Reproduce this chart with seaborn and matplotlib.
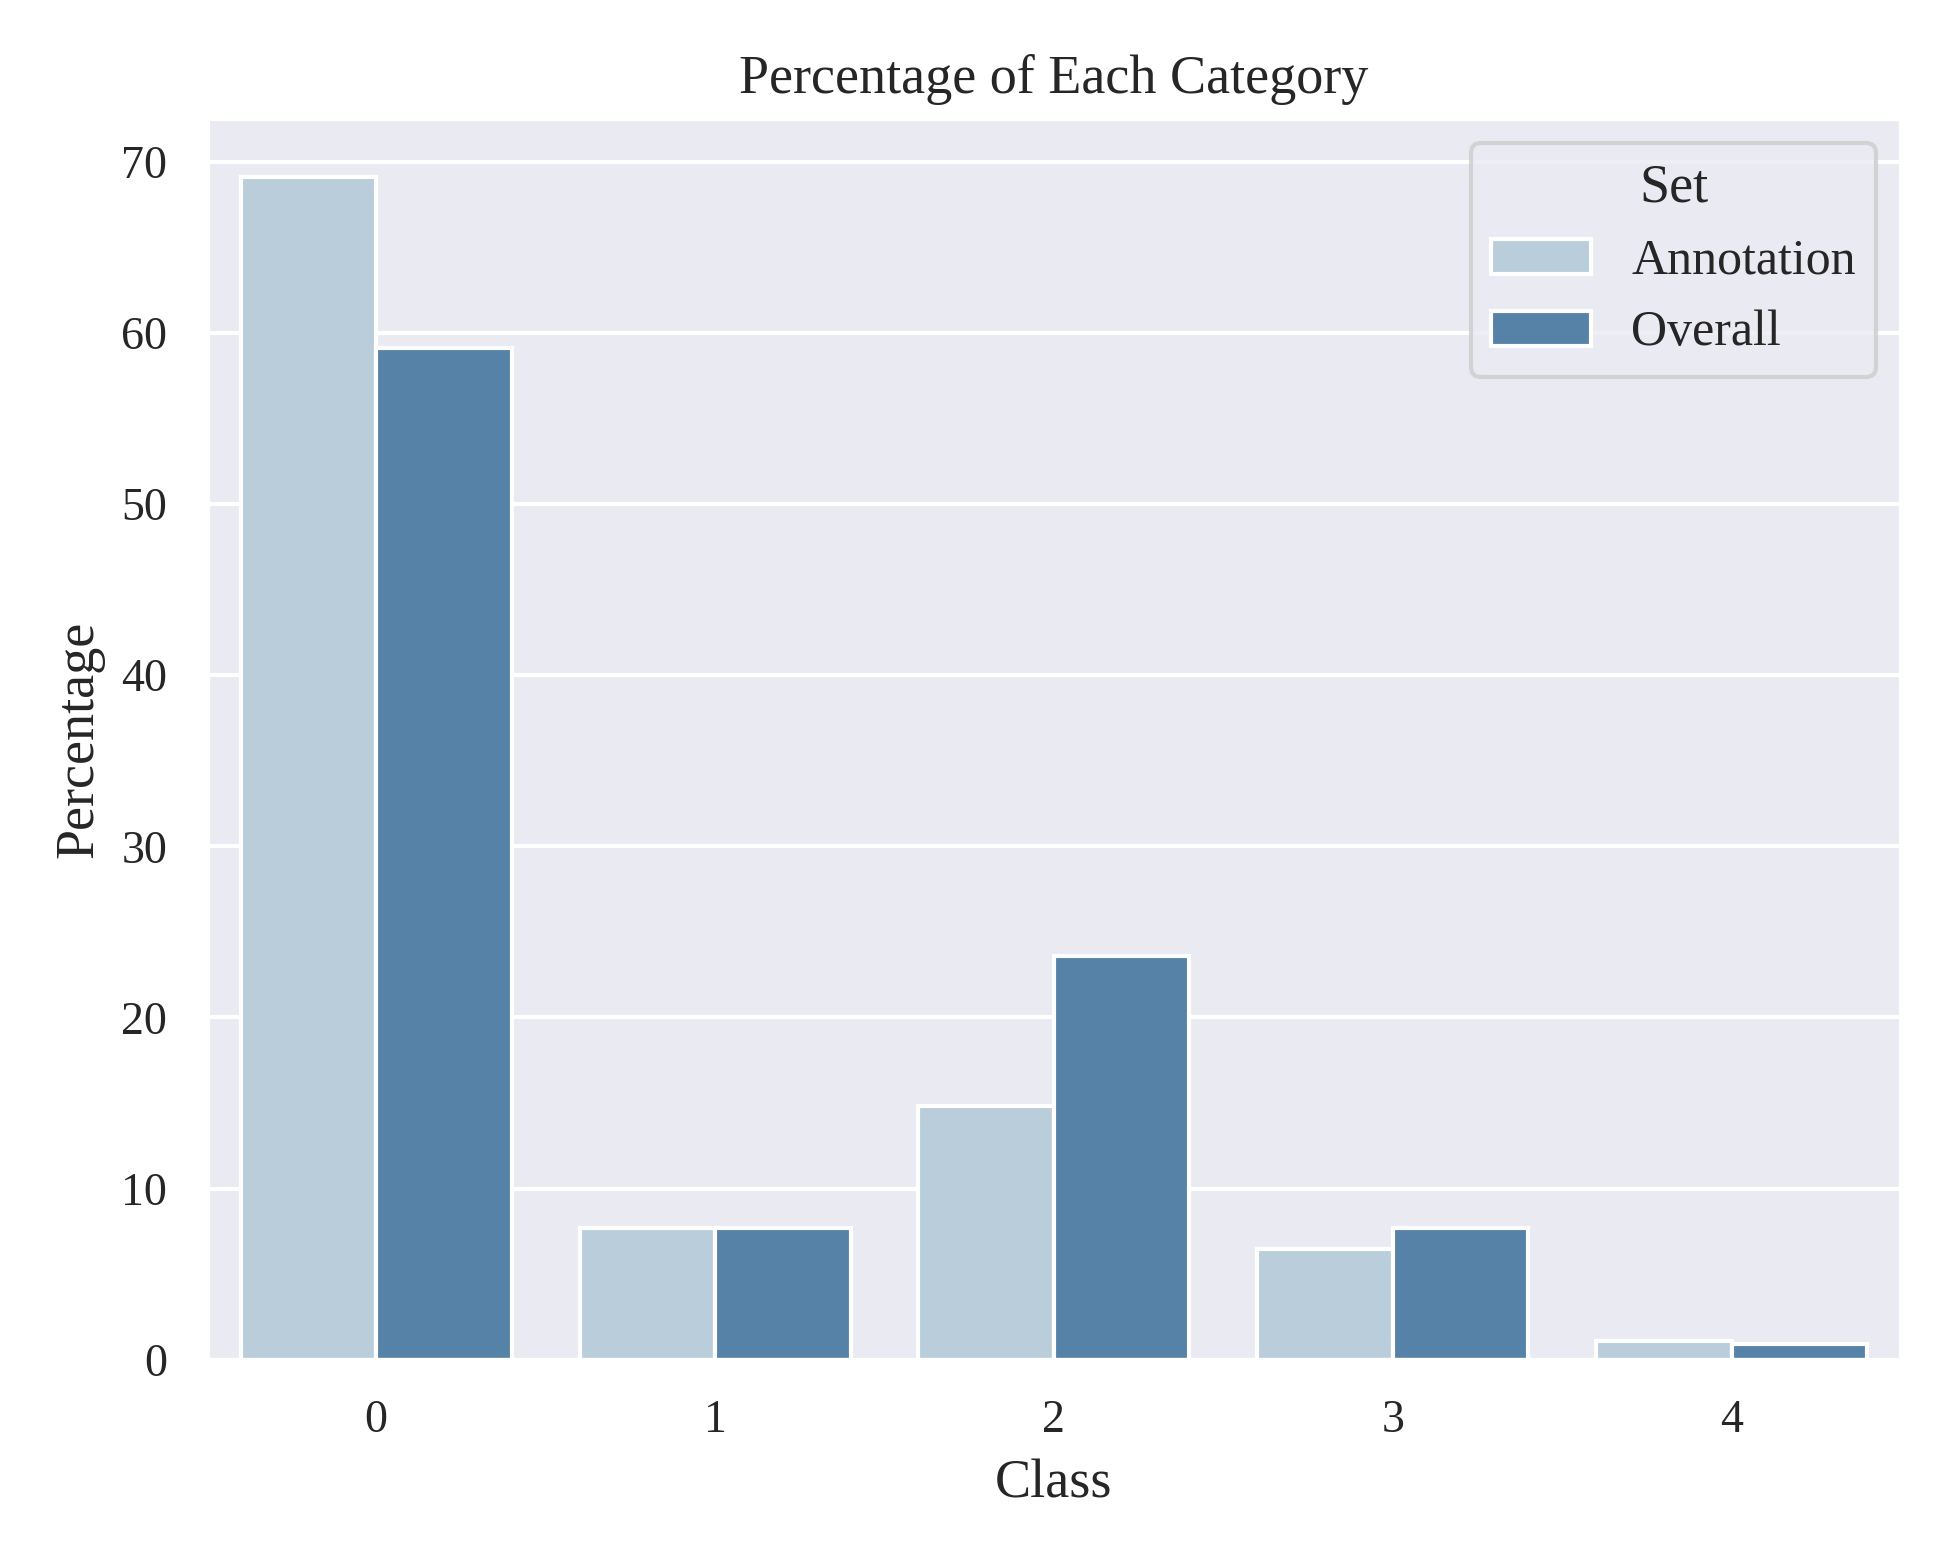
import pandas as pd
import seaborn as sns
import matplotlib.pyplot as plt

classes = ['0', '1', '2', '3', '4']
annotation = [69.1, 7.7, 14.8, 6.5, 1.1]
overall = [59.1, 7.7, 23.6, 7.7, 0.9]

df = pd.DataFrame({
    'Class': classes * 2,
    'Percentage': annotation + overall,
    'Set': ['Annotation'] * 5 + ['Overall'] * 5,
})

sns.set_theme(style='darkgrid')
plt.rcParams['font.family'] = ['Liberation Serif', 'DejaVu Serif']

fig, ax = plt.subplots(figsize=(6.517, 5.21), dpi=300)
sns.barplot(data=df, x='Class', y='Percentage', hue='Set',
            palette=['#b3cfe0', '#4884b3'], ax=ax)
ax.set_title('Percentage of Each Category', fontsize=13)
ax.set_xlabel('Class', fontsize=13)
ax.set_ylabel('Percentage', fontsize=13)
ax.tick_params(labelsize=11)
leg = ax.legend(title='Set', fontsize=12, title_fontsize=13, loc='upper right')
plt.tight_layout()
plt.savefig('out.png')
